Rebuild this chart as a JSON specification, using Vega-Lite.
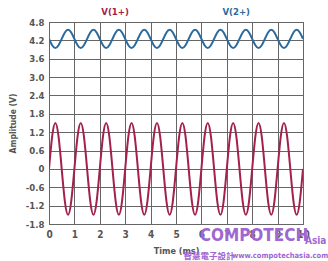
{
  "$schema": "https://vega.github.io/schema/vega-lite/v6.json",
  "autosize": {"type": "none"},
  "padding": {"left": 49, "top": 22, "right": 25, "bottom": 37},
  "width": 254,
  "height": 202,
  "background": "white",
  "config": {
    "view": {"stroke": "#444", "strokeWidth": 1},
    "font": "DejaVu Sans Condensed, DejaVu Sans, sans-serif"
  },
  "datasets": {
    "waves": [
      {"t":0,"v1":0,"v2":4.25},{"t":0.125,"v1":1.06,"v2":4.04},{"t":0.25,"v1":1.5,"v2":3.95},{"t":0.375,"v1":1.06,"v2":4.04},{"t":0.5,"v1":0,"v2":4.25},{"t":0.625,"v1":-1.06,"v2":4.46},{"t":0.75,"v1":-1.5,"v2":4.55},{"t":0.875,"v1":-1.06,"v2":4.46},
      {"t":1,"v1":0,"v2":4.25},{"t":1.125,"v1":1.06,"v2":4.04},{"t":1.25,"v1":1.5,"v2":3.95},{"t":1.375,"v1":1.06,"v2":4.04},{"t":1.5,"v1":0,"v2":4.25},{"t":1.625,"v1":-1.06,"v2":4.46},{"t":1.75,"v1":-1.5,"v2":4.55},{"t":1.875,"v1":-1.06,"v2":4.46},
      {"t":2,"v1":0,"v2":4.25},{"t":2.125,"v1":1.06,"v2":4.04},{"t":2.25,"v1":1.5,"v2":3.95},{"t":2.375,"v1":1.06,"v2":4.04},{"t":2.5,"v1":0,"v2":4.25},{"t":2.625,"v1":-1.06,"v2":4.46},{"t":2.75,"v1":-1.5,"v2":4.55},{"t":2.875,"v1":-1.06,"v2":4.46},
      {"t":3,"v1":0,"v2":4.25},{"t":3.125,"v1":1.06,"v2":4.04},{"t":3.25,"v1":1.5,"v2":3.95},{"t":3.375,"v1":1.06,"v2":4.04},{"t":3.5,"v1":0,"v2":4.25},{"t":3.625,"v1":-1.06,"v2":4.46},{"t":3.75,"v1":-1.5,"v2":4.55},{"t":3.875,"v1":-1.06,"v2":4.46},
      {"t":4,"v1":0,"v2":4.25},{"t":4.125,"v1":1.06,"v2":4.04},{"t":4.25,"v1":1.5,"v2":3.95},{"t":4.375,"v1":1.06,"v2":4.04},{"t":4.5,"v1":0,"v2":4.25},{"t":4.625,"v1":-1.06,"v2":4.46},{"t":4.75,"v1":-1.5,"v2":4.55},{"t":4.875,"v1":-1.06,"v2":4.46},
      {"t":5,"v1":0,"v2":4.25},{"t":5.125,"v1":1.06,"v2":4.04},{"t":5.25,"v1":1.5,"v2":3.95},{"t":5.375,"v1":1.06,"v2":4.04},{"t":5.5,"v1":0,"v2":4.25},{"t":5.625,"v1":-1.06,"v2":4.46},{"t":5.75,"v1":-1.5,"v2":4.55},{"t":5.875,"v1":-1.06,"v2":4.46},
      {"t":6,"v1":0,"v2":4.25},{"t":6.125,"v1":1.06,"v2":4.04},{"t":6.25,"v1":1.5,"v2":3.95},{"t":6.375,"v1":1.06,"v2":4.04},{"t":6.5,"v1":0,"v2":4.25},{"t":6.625,"v1":-1.06,"v2":4.46},{"t":6.75,"v1":-1.5,"v2":4.55},{"t":6.875,"v1":-1.06,"v2":4.46},
      {"t":7,"v1":0,"v2":4.25},{"t":7.125,"v1":1.06,"v2":4.04},{"t":7.25,"v1":1.5,"v2":3.95},{"t":7.375,"v1":1.06,"v2":4.04},{"t":7.5,"v1":0,"v2":4.25},{"t":7.625,"v1":-1.06,"v2":4.46},{"t":7.75,"v1":-1.5,"v2":4.55},{"t":7.875,"v1":-1.06,"v2":4.46},
      {"t":8,"v1":0,"v2":4.25},{"t":8.125,"v1":1.06,"v2":4.04},{"t":8.25,"v1":1.5,"v2":3.95},{"t":8.375,"v1":1.06,"v2":4.04},{"t":8.5,"v1":0,"v2":4.25},{"t":8.625,"v1":-1.06,"v2":4.46},{"t":8.75,"v1":-1.5,"v2":4.55},{"t":8.875,"v1":-1.06,"v2":4.46},
      {"t":9,"v1":0,"v2":4.25},{"t":9.125,"v1":1.06,"v2":4.04},{"t":9.25,"v1":1.5,"v2":3.95},{"t":9.375,"v1":1.06,"v2":4.04},{"t":9.5,"v1":0,"v2":4.25},{"t":9.625,"v1":-1.06,"v2":4.46},{"t":9.75,"v1":-1.5,"v2":4.55},{"t":9.875,"v1":-1.06,"v2":4.46},
      {"t":10,"v1":0,"v2":4.25}
    ],
    "labels": [
      {"t":2.6,"value":5.12,"label":"V(1+)","series":"v1"},
      {"t":7.37,"value":5.12,"label":"V(2+)","series":"v2"}
    ],
    "mark": [
      {"t":8.07,"value":-2.19,"label":"COMPOTECH","kind":"big"},
      {"t":10.5,"value":-2.36,"label":"Asia","kind":"small"},
      {"t":9.1,"value":-2.85,"label":"www.compotechasia.com","kind":"url"},
      {"t":6.3,"value":-2.85,"label":"智慧電子設計","kind":"cjk"}
    ]
  },
  "encoding": {
    "x": {
      "field": "t", "type": "quantitative",
      "scale": {"domain": [0, 10], "nice": false, "zero": false},
      "axis": {
        "title": "Time (ms)", "values": [0,1,2,3,4,5,6,7,8,9,10],
        "labelOverlap": false, "labelFlush": false,
        "grid": true, "gridColor": "#666", "gridWidth": 1,
        "domain": false, "ticks": false, "labelPadding": 5,
        "labelColor": "#555", "labelFontSize": 10, "labelFontWeight": "bold",
        "titleColor": "#555", "titleFontSize": 9, "titleFontWeight": "bold", "titlePadding": 7
      }
    },
    "y": {
      "field": "value", "type": "quantitative",
      "scale": {"domain": [-1.8, 4.8], "nice": false, "zero": false},
      "axis": {
        "title": "Amplitude (V)", "values": [-1.8,-1.2,-0.6,0,0.6,1.2,1.8,2.4,3.0,3.6,4.2,4.8],
        "labelExpr": "abs(datum.value) < 0.001 ? '0' : replace(format(datum.value, '.1f'), '−', '-')",
        "labelOverlap": false, "labelFlush": false,
        "grid": true, "gridColor": "#666", "gridWidth": 1,
        "domain": false, "ticks": false, "labelPadding": 5,
        "labelColor": "#555", "labelFontSize": 9.5, "labelFontWeight": "bold",
        "titleColor": "#555", "titleFontSize": 8.5, "titleFontWeight": "bold", "titlePadding": 8
      }
    }
  },
  "layer": [
    {
      "data": {"name": "waves"},
      "transform": [{"fold": ["v1", "v2"], "as": ["series", "value"]}],
      "mark": {"type": "line", "interpolate": "natural", "strokeWidth": 2, "clip": true},
      "encoding": {
        "color": {
          "field": "series", "type": "nominal",
          "scale": {"domain": ["v1", "v2"], "range": ["#a3204f", "#2b6a9c"]},
          "legend": null
        }
      }
    },
    {
      "data": {"name": "labels"},
      "mark": {"type": "text", "clip": false, "fontSize": 9.5, "fontWeight": "bold"},
      "encoding": {
        "text": {"field": "label"},
        "color": {"field": "series", "type": "nominal", "legend": null}
      }
    },
    {
      "data": {"name": "mark"},
      "transform": [{"filter": "datum.kind == 'big'"}],
      "mark": {"type": "text", "clip": false, "fontSize": 17, "fontWeight": "bold", "color": "#a066d3"},
      "encoding": {"text": {"field": "label"}}
    },
    {
      "data": {"name": "mark"},
      "transform": [{"filter": "datum.kind == 'small'"}],
      "mark": {"type": "text", "clip": false, "fontSize": 10, "fontWeight": "bold", "color": "#a066d3"},
      "encoding": {"text": {"field": "label"}}
    },
    {
      "data": {"name": "mark"},
      "transform": [{"filter": "datum.kind == 'url'"}],
      "mark": {"type": "text", "clip": false, "fontSize": 7.5, "fontWeight": "bold", "color": "#a066d3"},
      "encoding": {"text": {"field": "label"}}
    },
    {
      "data": {"name": "mark"},
      "transform": [{"filter": "datum.kind == 'cjk'"}],
      "mark": {"type": "text", "clip": false, "fontSize": 8.5, "fontWeight": "bold", "color": "#a066d3", "font": "Noto Sans CJK TC"},
      "encoding": {"text": {"field": "label"}}
    }
  ]
}
